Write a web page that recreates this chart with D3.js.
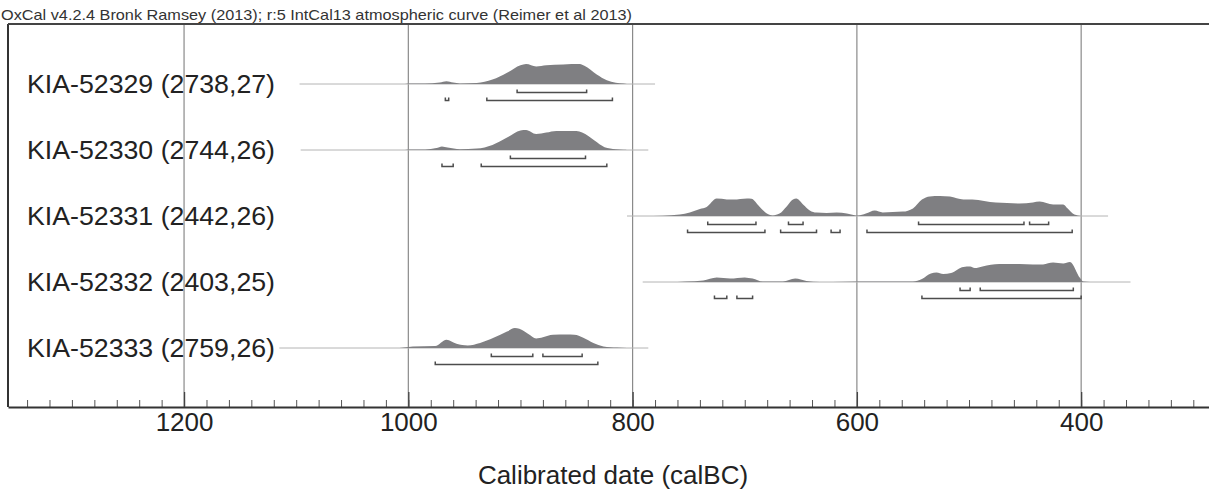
<!DOCTYPE html>
<html>
<head>
  <style>
    body {
        margin: 0;
        background: #fff;
        font-family: "Liberation Sans", Arial, sans-serif;
    }
    svg text {
        fill: #222;
    }
  </style>
</head>
<body>
<script src="https://d3js.org/d3.v7.min.js"></script>
<div id="chart"></div>
<script>
    // Samples (label with uncalibrated date, error)
    const sampleLabels = [
      "KIA-52329 (2738,27)",
      "KIA-52330 (2744,26)",
      "KIA-52331 (2442,26)",
      "KIA-52332 (2403,25)",
      "KIA-52333 (2759,26)"
    ];

    // Extent of the thin baseline for each sample (calBC)
    const spanYears = [[1097, 780], [1096, 786], [805, 376], [791, 356], [1115, 786]];

    // Calibrated probability, [year calBC, relative probability]
    const dens52329 = [[1003,0],[1000,0.02],[985,0.03],[972,0.08],[966,0.14],[960,0.07],[954,0.03],[939,0.05],[925,0.22],[912,0.56],[900,0.94],[895,1.0],[886,0.88],[877,0.94],[862,0.98],[847,1.0],[843,0.91],[832,0.48],[823,0.19],[815,0.06],[808,0.02],[805,0]];
    const dens52330 = [[1003,0],[1000,0.02],[985,0.03],[975,0.1],[970,0.18],[965,0.12],[954,0.04],[939,0.07],[925,0.25],[912,0.62],[900,0.98],[895,1.0],[886,0.8],[877,0.87],[868,0.95],[850,0.95],[845,0.87],[834,0.47],[825,0.14],[815,0.04],[808,0.01],[805,0]];
    const dens52331 = [[790,0],[773,0.01],[758,0.07],[749,0.18],[740,0.35],[734,0.45],[725,0.87],[716,0.83],[710,0.82],[698,0.88],[694,0.86],[687,0.48],[681,0.15],[675,0.03],[669,0.12],[663,0.45],[657,0.83],[654,0.87],[648,0.58],[642,0.28],[636,0.17],[627,0.15],[618,0.18],[609,0.13],[603,0.05],[599,0.02],[592,0.12],[584,0.27],[577,0.18],[559,0.22],[550,0.38],[542,0.82],[535,0.98],[526,1.0],[517,0.97],[505,0.82],[497,0.83],[476,0.67],[455,0.63],[443,0.68],[437,0.72],[425,0.57],[416,0.58],[412,0.37],[406,0.07],[400,0]];
    const dens52332 = [[760,0],[752,0.02],[737,0.07],[725,0.22],[713,0.17],[700,0.23],[693,0.17],[684,0.02],[666,0.02],[655,0.17],[645,0.05],[633,0],[610,0.01],[589,0.02],[550,0.03],[542,0.15],[534,0.42],[529,0.47],[523,0.4],[516,0.45],[505,0.75],[499,0.77],[495,0.7],[488,0.78],[473,0.9],[455,0.9],[443,0.87],[434,0.88],[425,0.97],[416,0.93],[410,1.0],[401,0.2],[398,0.02],[392,0]];
    const dens52333 = [[1008,0],[1000,0.05],[996,0.08],[976,0.1],[966,0.41],[957,0.21],[947,0.13],[936,0.25],[924,0.51],[912,0.82],[905,1.0],[901,0.96],[893,0.7],[886,0.48],[880,0.54],[871,0.66],[859,0.67],[852,0.66],[844,0.51],[835,0.25],[826,0.08],[814,0.02],[805,0]];

    // Highest posterior density ranges (68.2% and 95.4%)
    const hpd68 = [
      [[903, 841]],
      [[909, 842]],
      [[733, 690], [661, 648], [545, 451], [446, 429]],
      [[508, 499], [490, 407]],
      [[926, 889], [880, 845]]
    ];
    const hpd95 = [
      [[967, 964], [930, 818]],
      [[970, 960], [935, 823]],
      [[751, 682], [668, 636], [623, 615], [591, 408]],
      [[727, 716], [707, 693], [542, 400]],
      [[976, 831]]
    ];

    // Axis
    const xTicks = [1200, 1000, 800, 600, 400];
    const minorTicks = d3.range(300, 1360, 20);

    const densities = [dens52329, dens52330, dens52331, dens52332, dens52333];

    const width = 1209;
    const height = 490;
    const frame = { left: 8, right: 1209, top: 24, bottom: 407 };

    const svg = d3.select("#chart").append("svg")
      .attr("width", width)
      .attr("height", height);

    // Scales: calBC runs right to left
    const x = d3.scaleLinear()
      .domain([1357, 286])
      .range([frame.left, frame.right]);

    const y = d3.scalePoint()
      .domain(sampleLabels)
      .range([84, 348]);

    const h = d3.scaleLinear().domain([0, 1]).range([0, 20]);

    // Header
    svg.append("text")
      .attr("x", 1)
      .attr("y", 20)
      .attr("textLength", 631)
      .attr("lengthAdjust", "spacingAndGlyphs")
      .style("font-size", "15px")
      .style("fill", "#333")
      .text("OxCal v4.2.4 Bronk Ramsey (2013); r:5 IntCal13 atmospheric curve (Reimer et al 2013)");

    // Grid lines
    svg.append("g")
      .selectAll("line")
      .data(xTicks)
      .join("line")
      .attr("x1", d => x(d))
      .attr("x2", d => x(d))
      .attr("y1", frame.top)
      .attr("y2", frame.bottom)
      .attr("stroke", "#8a8a8a")
      .attr("stroke-width", 1.2);

    // Sample labels
    svg.append("g")
      .selectAll("text")
      .data(sampleLabels)
      .join("text")
      .attr("x", 27)
      .attr("y", d => y(d) + 8.7)
      .attr("textLength", 248)
      .attr("lengthAdjust", "spacingAndGlyphs")
      .style("font-size", "25px")
      .text(d => d);

    const rows = svg.append("g")
      .selectAll("g")
      .data(sampleLabels)
      .join("g");

    // Baseline of each distribution
    rows.append("line")
      .attr("x1", (d, i) => x(spanYears[i][0]))
      .attr("x2", (d, i) => x(spanYears[i][1]))
      .attr("y1", d => y(d))
      .attr("y2", d => y(d))
      .attr("stroke", "#b4b4b4")
      .attr("stroke-width", 1);

    // Probability distributions
    rows.append("path")
      .attr("fill", "#7f7f82")
      .attr("d", (d, i) => d3.area()
        .x(p => x(p[0]))
        .y0(y(d))
        .y1(p => y(d) - h(p[1]))
        .curve(d3.curveMonotoneX)(densities[i].slice().reverse()));

    // Range brackets
    function drawBrackets(ranges, offset) {
      rows.each(function (d, i) {
        const base = y(d) + offset;
        d3.select(this).selectAll(null)
          .data(ranges[i])
          .join("path")
          .attr("fill", "none")
          .attr("stroke", "#4d4d4d")
          .attr("stroke-width", 1.5)
          .attr("d", r => `M${x(r[0])},${base - 3}V${base}H${x(r[1])}V${base - 3}`);
      });
    }
    drawBrackets(hpd68, 8.5);
    drawBrackets(hpd95, 16.5);

    // Minor ticks
    svg.append("g")
      .attr("transform", `translate(0, ${frame.bottom})`)
      .call(d3.axisBottom(x).tickValues(minorTicks).tickSize(-7).tickSizeOuter(0).tickFormat(""))
      .call(g => g.select(".domain").remove())
      .selectAll("line").attr("stroke", "#555");

    // Major ticks with labels
    const xAxis = svg.append("g")
      .attr("transform", `translate(0, ${frame.bottom})`)
      .call(d3.axisBottom(x).tickValues(xTicks).tickSize(-15).tickSizeOuter(0).tickPadding(6).tickFormat(d3.format("d")));
    xAxis.select(".domain").attr("stroke", "#333").attr("stroke-width", 2);
    xAxis.selectAll(".tick line").attr("stroke", "#444").attr("stroke-width", 1.3);
    xAxis.selectAll(".tick text")
      .style("font-family", "'Liberation Sans', Arial, sans-serif")
      .style("font-size", "26px")
      .attr("fill", "#222");

    // Frame: left and top
    svg.append("line")
      .attr("x1", frame.left).attr("x2", frame.left)
      .attr("y1", frame.top).attr("y2", frame.bottom)
      .attr("stroke", "#333").attr("stroke-width", 2);
    svg.append("line")
      .attr("x1", frame.left).attr("x2", frame.right)
      .attr("y1", frame.top).attr("y2", frame.top)
      .attr("stroke", "#444").attr("stroke-width", 2);

    // Axis title
    svg.append("text")
      .attr("x", 613)
      .attr("y", 484)
      .attr("text-anchor", "middle")
      .style("font-size", "26px")
      .text("Calibrated date (calBC)");
</script>
</body>
</html>
